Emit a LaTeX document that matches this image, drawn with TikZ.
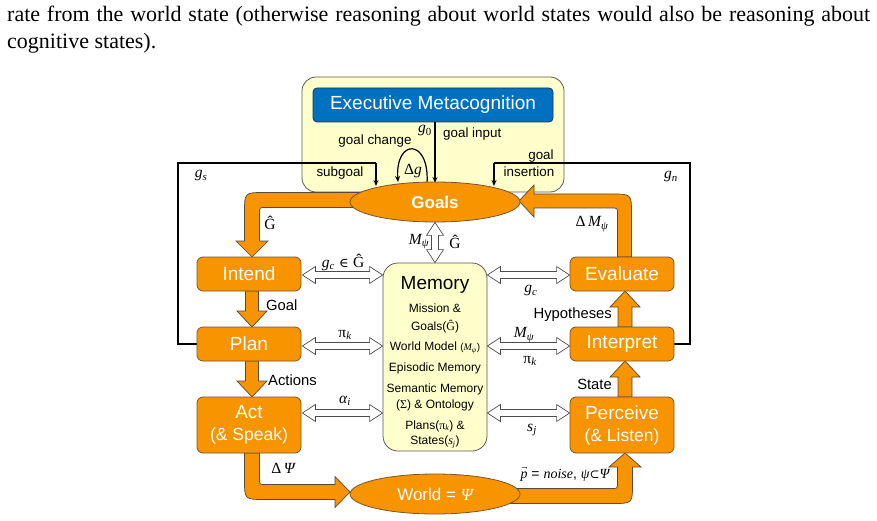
\documentclass[tikz,border=0pt]{standalone}
\usepackage{fontspec}
\setmainfont{Liberation Sans}
\newfontfamily\serifpara{Liberation Serif}
\newfontfamily\symf{DejaVu Serif}
\usetikzlibrary{shapes.geometric,arrows.meta,calc}
\definecolor{org}{RGB}{247,148,0}
\definecolor{orgline}{RGB}{120,85,45}
\definecolor{bandline}{RGB}{90,70,50}
\definecolor{yel}{RGB}{255,255,204}
\definecolor{blu}{RGB}{0,112,192}
\definecolor{bluline}{RGB}{25,55,100}
\newcommand{\mi}[1]{{\serifpara\itshape #1}}
\newcommand{\ru}[1]{{\serifpara #1}}
\newcommand{\sbs}[1]{\textsubscript{\serifpara\itshape #1}}
\newcommand{\vecp}{\makebox[0pt][l]{\raisebox{0.62em}{\kern0.08em\fontsize{7}{7}\selectfont\symf →}}\mi{p}}
\tikzset{
  conn/.style={line width=1.2pt, -{Stealth[length=6pt,width=5pt]}},
  plainline/.style={line width=1.2pt},
  band/.style={fill=org, draw=bandline, line width=0.7pt, line join=miter},
  obox/.style={rectangle, rounded corners=6pt, fill=org, draw=orgline, line width=0.8pt,
    minimum width=104pt, text=white, font=\fontsize{19}{22}\selectfont, align=center, inner sep=0},
  oell/.style={ellipse, fill=org, draw=orgline, line width=0.8pt, minimum width=170pt,
    minimum height=40pt, inner sep=0, text=white},
  hollow/.style={fill=white, draw=black!70, line width=0.7pt, line join=miter},
  lab/.style={font=\fontsize{13.4}{15}\selectfont, inner sep=0},
  blab/.style={font=\fontsize{14.8}{17}\selectfont, inner sep=0},
  mlab/.style={font=\fontsize{15.5}{17}\selectfont, inner sep=0},
  memtxt/.style={font=\fontsize{12}{14}\selectfont, inner sep=0},
}
\newcommand{\dblH}[2]{%
 \draw[hollow] (#1) -- ($(#1)+(13,-8.5)$) -- ($(#1)+(13,-3.5)$) -- ($(#2)+(-13,-3.5)$) -- ($(#2)+(-13,-8.5)$) -- (#2) -- ($(#2)+(-13,8.5)$) -- ($(#2)+(-13,3.5)$) -- ($(#1)+(13,3.5)$) -- ($(#1)+(13,8.5)$) -- cycle;}
\newcommand{\dblV}[2]{%
 \draw[hollow] (#1) -- ($(#1)+(-8.5,13)$) -- ($(#1)+(-3.5,13)$) -- ($(#2)+(-3.5,-13)$) -- ($(#2)+(-8.5,-13)$) -- (#2) -- ($(#2)+(8.5,-13)$) -- ($(#2)+(3.5,-13)$) -- ($(#1)+(3.5,13)$) -- ($(#1)+(8.5,13)$) -- cycle;}
\begin{document}
\begin{tikzpicture}[x=1pt,y=-1pt]
\useasboundingbox (0,0) rectangle (877,521);
% paragraph
\node[anchor=base west, inner sep=0, font=\serifpara\fontsize{22}{26}\selectfont] (para1) at (7,22)
  {\hbox to 863pt{rate from the world state (otherwise reasoning about world states would also be reasoning about}};
\node[anchor=base west, inner sep=0, font=\serifpara\fontsize{22}{26}\selectfont] (para2) at (7,49)
  {cognitive states).};
% metacognition panel
\node[rectangle, rounded corners=14pt, fill=yel, draw=black!65, line width=0.8pt,
  minimum width=262pt, minimum height=115pt] (meta) at (433,134.5) {};
\node[rectangle, rounded corners=4pt, fill=blu, draw=bluline, line width=0.8pt,
  minimum width=240pt, minimum height=34pt, text=white, font=\fontsize{19}{22}\selectfont] (exec) at (433,105) {Executive Metacognition};
% black connectors
\coordinate (sgc) at (178,163);
\coordinate (sgt) at (376,163);
\coordinate (sge) at (376,186);
\coordinate (gnc) at (690,163);
\coordinate (gnt) at (494,163);
\coordinate (gne) at (494,186);
\coordinate (plw) at (197,344);
\coordinate (ine) at (674,344);
\draw[plainline] (plw) -- (178,344) -- (sgc) -- (sgt);
\draw[conn] (sgt) -- (sge);
\draw[plainline] (ine) -- (690,344) -- (gnc) -- (gnt);
\draw[conn] (gnt) -- (gne);
\coordinate (g0s) at (435,122);
\coordinate (g0e) at (435,183);
\draw[conn] (g0s) -- (g0e);
\coordinate (dgA) at (427,184);
\coordinate (dgB) at (398,182);
\draw[conn] (dgA) .. controls (430,138) and (395,138) .. (dgB);
% orange bands
\draw[band] (365,192.5) -- (264.5,192.5) .. controls (244.5,192.5) .. (244.5,212.5) -- (244.5,241) -- (236,241) -- (252,257) -- (268,241) -- (259.5,241) -- (259.5,213.5) .. controls (259.5,207.5) .. (265.5,207.5) -- (365,207.5) -- cycle;
\draw[band] (617.5,257) -- (617.5,214) .. controls (617.5,208) .. (611.5,208) -- (534,208) -- (534,217) -- (519,201) -- (534,185) -- (534,194) -- (611.5,194) .. controls (631.5,194) .. (631.5,214) -- (631.5,257) -- cycle;
\draw[band] (244.5,453) -- (244.5,479.5) .. controls (244.5,499.5) .. (264.5,499.5) -- (335,499.5) -- (335,507.5) -- (350,492) -- (335,476.5) -- (335,484.5) -- (265.5,484.5) .. controls (259.5,484.5) .. (259.5,478.5) -- (259.5,453) -- cycle;
\draw[band] (505,488.5) -- (611.5,488.5) .. controls (617.5,488.5) .. (617.5,482.5) -- (617.5,467) -- (609,467) -- (625,453) -- (641,467) -- (632.5,467) -- (632.5,483.5) .. controls (632.5,503.5) .. (612.5,503.5) -- (505,503.5) -- cycle;
\draw[band] (245.5,291) -- (245.5,311) -- (237,311) -- (252,327) -- (267,311) -- (258.5,311) -- (258.5,291) -- cycle;
\draw[band] (245.5,361) -- (245.5,381) -- (237,381) -- (252,397) -- (267,381) -- (258.5,381) -- (258.5,361) -- cycle;
\draw[band] (618,397) -- (618,377) -- (610,377) -- (625,361) -- (640,377) -- (632,377) -- (632,397) -- cycle;
\draw[band] (618,327) -- (618,307) -- (610,307) -- (625,291) -- (640,307) -- (632,307) -- (632,327) -- cycle;
% ellipses
\node[oell, font=\fontsize{17}{20}\selectfont\bfseries] (goals) at (435,202) {Goals};
\node[oell, font=\fontsize{17}{20}\selectfont] (world) at (435,494) {World = \mi{Ψ}};
% boxes
\node[obox, minimum height=34pt] (intend) at (249,274) {Intend};
\node[obox, minimum height=34pt] (plan) at (249,344) {Plan};
\node[obox, minimum height=56pt] (act) at (249,425) {Act\\{\fontsize{17.5}{20}\selectfont(\& Speak)}};
\node[obox, minimum height=34pt] (eval) at (622,274) {Evaluate};
\node[obox, minimum height=34pt] (interp) at (622,344) {Interpret};
\node[obox, minimum height=56pt] (perc) at (622,425) {Perceive\\{\fontsize{17.5}{20}\selectfont(\& Listen)}};
% memory
\node[rectangle, rounded corners=15pt, fill=yel, draw=black!65, line width=0.8pt,
  minimum width=104pt, minimum height=188pt] (mem) at (435,357) {};
\node[font=\fontsize{19}{22}\selectfont, inner sep=0] (memt) at (435,285) {Memory};
\node[memtxt] (m1) at (435,308) {Mission \&};
\node[memtxt] (m2) at (435,327) {Goals(\ru{Ĝ})};
\node[memtxt] (m3) at (435,348) {World Model {\fontsize{10}{12}\selectfont(\mi{M}\sbs{ψ})}};
\node[memtxt] (m4) at (435,368) {Episodic Memory};
\node[memtxt] (m5) at (435,389) {Semantic Memory};
\node[memtxt] (m6) at (435,405) {(\ru{Σ}) \& Ontology};
\node[memtxt] (m7) at (435,426) {Plans(\ru{π}\sbs{k}) \&};
\node[memtxt] (m8) at (435,442) {States(\mi{s}\sbs{j})};
% hollow double arrows
\coordinate (a1) at ($(intend.east)+(1,1)$);
\coordinate (a2) at (a1 -| mem.west);
\dblH{a1}{a2}
\coordinate (b2) at ($(eval.west)+(0,1)$);
\coordinate (b1) at (b2 -| mem.east);
\dblH{b1}{b2}
\coordinate (c1) at ($(plan.east)+(1,2)$);
\coordinate (c2) at (c1 -| mem.west);
\dblH{c1}{c2}
\coordinate (d2) at ($(interp.west)+(0,2)$);
\coordinate (d1) at (d2 -| mem.east);
\dblH{d1}{d2}
\coordinate (e1) at ($(act.east)+(1,-12)$);
\coordinate (e2) at (e1 -| mem.west);
\dblH{e1}{e2}
\coordinate (f2) at ($(perc.west)+(0,-12)$);
\coordinate (f1) at (f2 -| mem.east);
\dblH{f1}{f2}
\coordinate (v1) at (goals.south);
\coordinate (v2) at (mem.north);
\dblV{v1}{v2}
% labels
\node[mlab] (lg0) at (425,131) {\mi{g}\textsubscript{\serifpara 0}};
\node[lab, anchor=west] (lgi) at (443,134) {goal input};
\node[lab] (lgc) at (375,141) {goal change};
\node[mlab] (ldg) at (413,171) {\ru{Δ}\mi{g}};
\node[lab] (lsub) at (340,173) {subgoal};
\node[lab] (lgoal) at (541,156) {goal};
\node[lab] (lins) at (529,172) {insertion};
\node[mlab] (lgs) at (201,176) {\mi{g}\sbs{s}};
\node[mlab] (lgn) at (671,177) {\mi{g}\sbs{n}};
\node[mlab] (lG1) at (270,223) {\ru{Ĝ}};
\node[mlab] (ldm) at (592,224) {\ru{Δ}\,\mi{M}\sbs{ψ}};
\node[mlab] (lmp) at (419,242) {\mi{M}\sbs{ψ}};
\node[mlab] (lG2) at (455,242) {\ru{Ĝ}};
\node[mlab] (lgcg) at (343,262) {\mi{g}\sbs{c} {\symf\fontsize{13}{15}\selectfont ∈} \ru{Ĝ}};
\node[mlab] (lgcr) at (531,291) {\mi{g}\sbs{c}};
\node[mlab] (lpil) at (345,335) {\ru{π}\sbs{k}};
\node[mlab] (lmr) at (524,335) {\mi{M}\sbs{ψ}};
\node[mlab] (lpir) at (530,361) {\ru{π}\sbs{k}};
\node[mlab] (lal) at (345,401) {\mi{α}\sbs{i}};
\node[mlab] (lsj) at (532,430) {\mi{s}\sbs{j}};
\node[blab, anchor=west] (lgoal2) at (266,305) {Goal};
\node[blab, anchor=west] (lact) at (268,380) {Actions};
\node[blab, anchor=east] (lstate) at (612,384) {State};
\node[blab, anchor=east] (lhyp) at (612,315) {Hypotheses};
\node[mlab] (ldpsi) at (283,468) {\ru{Δ}\,\mi{Ψ}};
\node[mlab, font=\fontsize{14}{16}\selectfont] (lnoise) at (565,474) {\vecp\ = \mi{noise}, \mi{ψ}{\symf\fontsize{12}{14}\selectfont ⊂}\mi{Ψ}};
\end{tikzpicture}
\end{document}
